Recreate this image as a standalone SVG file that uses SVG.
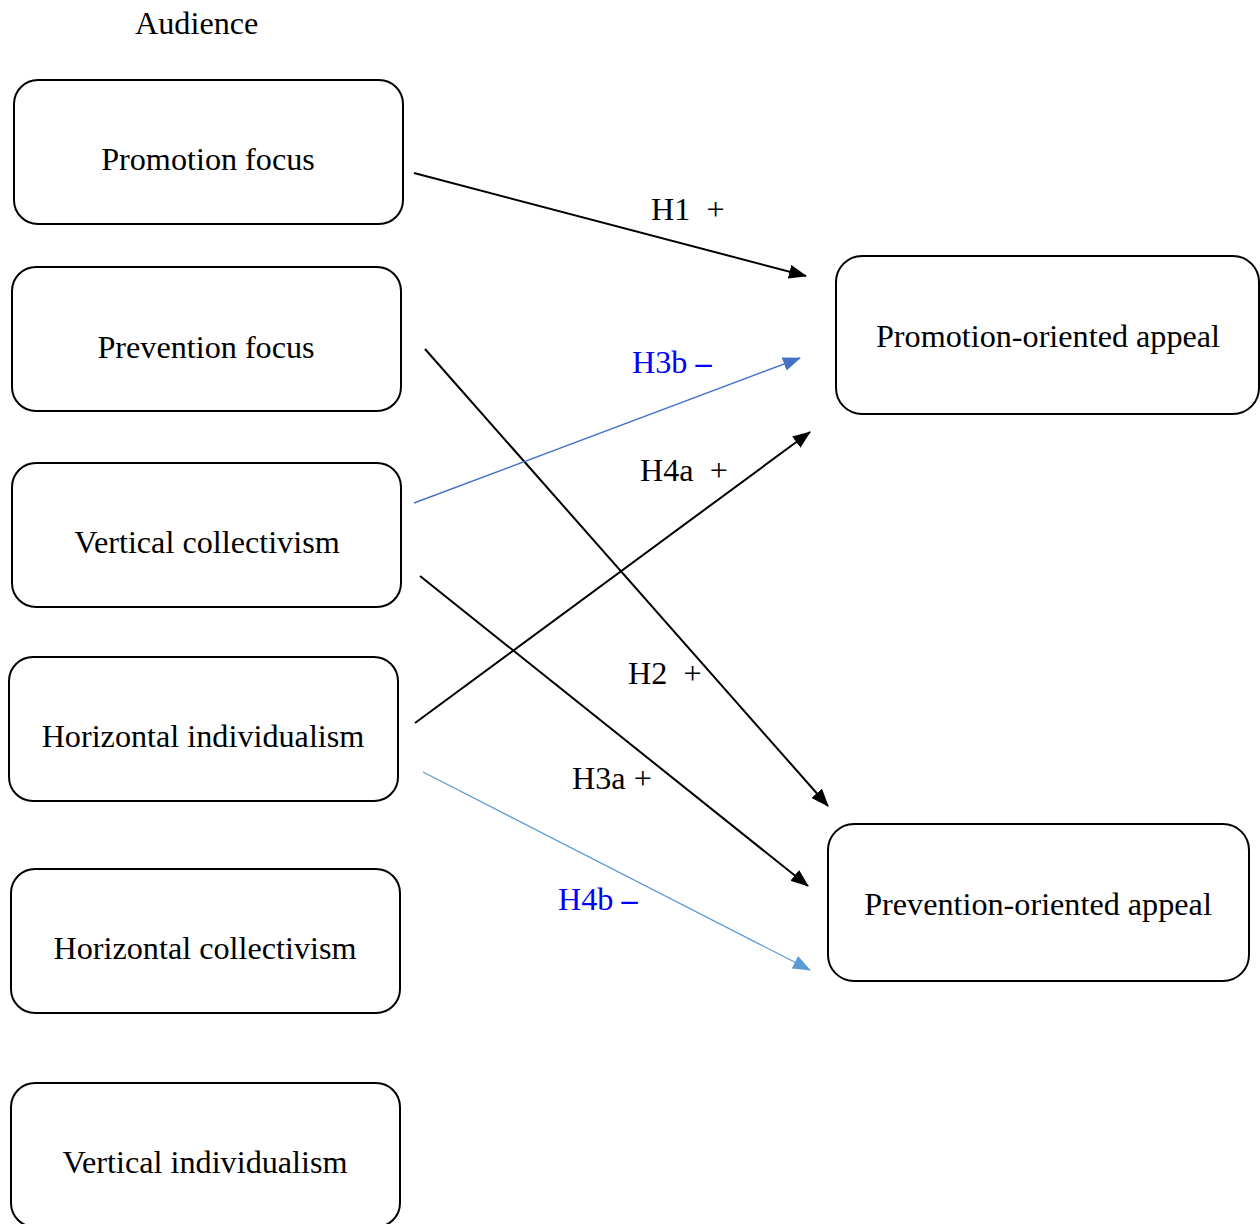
<svg xmlns="http://www.w3.org/2000/svg" width="1260" height="1224" viewBox="0 0 1260 1224">
<defs>
<style>
.box{fill:#fff;stroke:#000;stroke-width:2}
.t{font-family:"Liberation Serif","Times New Roman",serif;font-size:32.2px;fill:#000}
.b{fill:#0000ff}
.blk{stroke:#000;stroke-width:2;fill:none}
.bl1{stroke:#4472c4;stroke-width:1.4;fill:none}
.bl2{stroke:#5b9bd5;stroke-width:1.2;fill:none}
</style>
<marker id="ab" viewBox="0 0 18 14" refX="17" refY="7" markerWidth="18" markerHeight="14" markerUnits="userSpaceOnUse" orient="auto"><path d="M0,0L18,7L0,14z" fill="#000"/></marker>
<marker id="ab1" viewBox="0 0 18 14" refX="17" refY="7" markerWidth="18" markerHeight="14" markerUnits="userSpaceOnUse" orient="auto"><path d="M0,0L18,7L0,14z" fill="#4472c4"/></marker>
<marker id="ab2" viewBox="0 0 18 14" refX="17" refY="7" markerWidth="18" markerHeight="14" markerUnits="userSpaceOnUse" orient="auto"><path d="M0,0L18,7L0,14z" fill="#5b9bd5"/></marker>
</defs>
<rect width="1260" height="1224" fill="#fff"/>
<text class="t" x="135" y="34">Audience</text>
<g id="promotion-focus"><rect class="box" x="14" y="80" width="389" height="144" rx="24"/><text class="t" x="208" y="170" text-anchor="middle">Promotion focus</text></g>
<g id="prevention-focus"><rect class="box" x="12" y="267" width="389" height="144" rx="24"/><text class="t" x="206" y="358" text-anchor="middle">Prevention focus</text></g>
<g id="vertical-collectivism"><rect class="box" x="12" y="463" width="389" height="144" rx="24"/><text class="t" x="207" y="553" text-anchor="middle">Vertical collectivism</text></g>
<g id="horizontal-individualism"><rect class="box" x="9" y="657" width="389" height="144" rx="24"/><text class="t" x="203" y="747" text-anchor="middle">Horizontal individualism</text></g>
<g id="horizontal-collectivism"><rect class="box" x="11" y="869" width="389" height="144" rx="24"/><text class="t" x="205" y="959" text-anchor="middle">Horizontal collectivism</text></g>
<g id="vertical-individualism"><rect class="box" x="11" y="1083" width="389" height="144" rx="24"/><text class="t" x="205" y="1173" text-anchor="middle">Vertical individualism</text></g>
<g id="promotion-appeal"><rect class="box" x="836" y="256" width="423" height="158" rx="26"/><text class="t" x="1048" y="347" text-anchor="middle">Promotion-oriented appeal</text></g>
<g id="prevention-appeal"><rect class="box" x="828" y="824" width="421" height="157" rx="26"/><text class="t" x="1038" y="915" text-anchor="middle">Prevention-oriented appeal</text></g>
<g id="connectors">
<line class="blk" x1="414" y1="173" x2="806" y2="276" marker-end="url(#ab)"/>
<line class="blk" x1="425" y1="349" x2="828" y2="806" marker-end="url(#ab)"/>
<line class="bl1" x1="414" y1="503" x2="800" y2="358" marker-end="url(#ab1)"/>
<line class="blk" x1="415" y1="723" x2="810" y2="432" marker-end="url(#ab)"/>
<line class="blk" x1="420" y1="576" x2="808" y2="886" marker-end="url(#ab)"/>
<line class="bl2" x1="423" y1="772" x2="810" y2="970" marker-end="url(#ab2)"/>
<text class="t" x="651" y="220" xml:space="preserve">H1  +</text>
<text class="t b" x="632" y="373">H3b <tspan font-weight="bold">–</tspan></text>
<text class="t" x="640" y="481" xml:space="preserve">H4a  +</text>
<text class="t" x="628" y="684" xml:space="preserve">H2  +</text>
<text class="t" x="572" y="789">H3a +</text>
<text class="t b" x="558" y="910">H4b <tspan font-weight="bold">–</tspan></text>
</g>
</svg>
